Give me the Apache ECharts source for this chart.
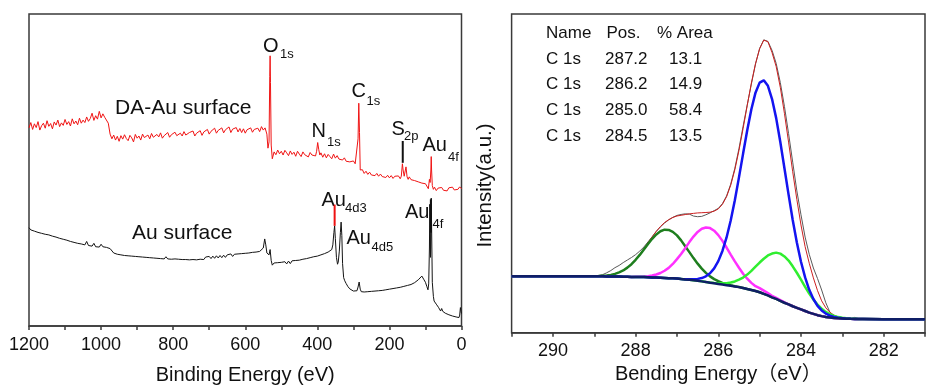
<!DOCTYPE html>
<html><head><meta charset="utf-8">
<script src="https://cdn.jsdelivr.net/npm/echarts@6/dist/echarts.min.js"></script>
<style>html,body{margin:0;padding:0;background:#fff}#c{width:928px;height:390px}</style>
</head><body><div id="c"></div>
<script>
// ---------- Left panel: XPS survey spectra (binding energy eV, intensity a.u.) ----------
const surveyTickLabels = [0, 200, 400, 600, 800, 1000, 1200];
const daAuSurvey = [[1200,63.5],[1195,65.2],[1190,63.0],[1185,64.8],[1180,63.6],[1175,65.5],[1170,62.8],[1165,64.2],[1160,65.0],[1155,63.4],[1150,65.8],[1145,64.0],[1140,64.9],[1135,63.2],[1130,65.4],[1125,64.4],[1120,66.0],[1115,63.9],[1110,65.1],[1105,64.3],[1100,66.2],[1095,64.6],[1090,65.5],[1085,64.1],[1080,66.4],[1075,64.8],[1070,65.7],[1065,64.5],[1060,66.6],[1055,65.0],[1050,66.0],[1045,65.2],[1040,67.0],[1035,65.6],[1030,66.5],[1025,68.2],[1020,65.9],[1015,67.4],[1010,66.3],[1005,68.8],[1000,66.7],[995,68.0],[990,66.9],[985,67.5],[980,65.0],[975,61.5],[970,60.0],[965,61.2],[960,59.6],[955,60.8],[950,59.2],[945,61.0],[940,59.9],[935,61.3],[930,60.1],[925,59.4],[920,61.1],[915,60.3],[910,59.0],[905,61.4],[900,60.2],[895,60.9],[890,59.6],[885,61.5],[880,60.4],[875,59.8],[870,61.2],[865,60.0],[860,61.7],[855,60.5],[850,59.9],[845,61.4],[840,60.6],[835,61.9],[830,60.2],[825,61.0],[820,60.7],[815,62.0],[810,60.5],[805,61.3],[800,60.8],[795,62.1],[790,61.0],[785,60.4],[780,61.8],[775,60.9],[770,62.3],[765,61.2],[760,60.7],[755,62.0],[750,61.4],[745,62.5],[740,60.9],[735,61.8],[730,61.3],[725,62.6],[720,61.1],[715,62.2],[710,61.6],[705,63.0],[700,61.5],[695,62.4],[690,61.9],[685,63.4],[680,61.8],[675,62.7],[670,62.1],[665,63.5],[660,61.9],[655,62.9],[650,62.3],[645,63.8],[640,62.0],[635,63.1],[630,62.5],[625,63.6],[620,62.2],[615,63.3],[610,62.0],[605,63.2],[600,61.8],[595,62.9],[590,62.4],[585,63.5],[580,62.1],[575,63.0],[570,62.6],[565,63.4],[560,62.3],[555,63.9],[550,62.8],[545,63.5],[540,61.5],[537,57.0],[534,59.0],[532,80.0],[531,86.6],[530,78.0],[528,58.0],[525,53.6],[520,55.8],[515,54.9],[510,56.4],[505,55.2],[500,56.0],[495,54.8],[490,56.3],[485,55.5],[480,54.6],[475,56.1],[470,55.0],[465,55.7],[460,54.4],[455,56.0],[450,55.1],[445,54.3],[440,55.8],[435,54.9],[430,55.5],[425,54.2],[420,55.6],[415,54.8],[410,55.3],[405,54.5],[402,56.0],[399,58.8],[396,56.5],[393,54.8],[390,55.5],[385,54.1],[380,55.2],[375,53.9],[370,55.0],[365,54.3],[360,53.6],[355,55.1],[350,53.8],[345,54.6],[340,53.5],[335,54.0],[330,53.2],[325,53.9],[320,52.8],[315,53.4],[310,52.6],[305,52.5],[300,52.9],[295,52.0],[290,51.6],[287,60.0],[285,71.4],[283,62.0],[281,50.0],[278,49.4],[275,50.1],[270,48.9],[265,49.6],[260,48.6],[255,49.3],[250,48.4],[245,49.0],[240,48.2],[235,48.9],[230,48.0],[225,48.7],[220,47.9],[215,48.5],[210,47.6],[205,48.3],[200,47.5],[195,48.2],[190,47.3],[185,48.0],[180,47.4],[175,48.1],[170,47.2],[167,48.0],[164,52.0],[162,50.0],[159,48.0],[156,47.5],[154,51.0],[151,47.8],[148,47.0],[145,47.8],[140,46.9],[135,47.5],[130,46.6],[125,47.2],[120,46.2],[115,46.8],[110,45.8],[105,46.4],[100,45.6],[95,45.3],[92,44.0],[89,47.0],[87,46.0],[85,50.0],[84,54.3],[83,50.0],[81,45.0],[78,43.8],[75,44.5],[70,43.4],[65,44.2],[60,43.6],[55,44.4],[50,43.5],[45,44.0],[40,43.3],[35,44.3],[30,43.7],[25,44.5],[20,43.6],[15,44.2],[10,43.8],[5,44.6],[0,44.0]];
const auSurvey = [[1200,31.5],[1195,30.8],[1190,31.2],[1185,30.4],[1180,30.9],[1175,30.0],[1170,30.5],[1165,29.7],[1160,30.2],[1155,29.4],[1150,29.9],[1145,29.2],[1140,29.6],[1135,28.8],[1130,29.3],[1125,28.5],[1120,28.9],[1115,28.1],[1110,28.6],[1105,27.8],[1100,28.2],[1095,27.5],[1090,27.9],[1085,27.1],[1080,27.6],[1075,26.8],[1070,27.2],[1065,26.5],[1060,27.0],[1055,26.3],[1050,26.7],[1045,26.0],[1040,27.1],[1035,25.8],[1030,26.3],[1025,25.6],[1020,26.5],[1015,25.4],[1010,25.9],[1005,25.3],[1000,26.2],[995,25.4],[990,25.8],[985,25.2],[980,25.6],[975,24.8],[970,24.2],[965,23.4],[960,23.8],[955,23.0],[950,23.5],[945,22.8],[940,23.3],[935,22.6],[930,23.2],[925,22.5],[920,23.1],[915,22.4],[910,23.0],[905,22.3],[900,22.9],[895,22.2],[890,22.8],[885,22.1],[880,22.7],[875,22.0],[870,22.6],[865,21.9],[860,22.5],[855,21.8],[850,22.4],[845,21.7],[840,22.3],[835,21.6],[830,22.2],[825,21.5],[820,22.2],[815,21.5],[810,22.1],[805,21.4],[800,22.0],[795,21.5],[790,22.1],[785,21.4],[780,22.0],[775,21.3],[770,21.9],[765,21.3],[760,21.9],[755,21.2],[750,21.8],[745,21.3],[740,21.9],[735,21.2],[730,21.7],[725,21.4],[720,22.0],[715,21.3],[710,22.1],[705,21.5],[700,22.3],[695,21.6],[690,22.4],[685,21.7],[680,22.5],[675,21.8],[670,22.6],[665,21.9],[660,22.7],[655,22.0],[650,22.8],[645,22.2],[640,23.1],[635,22.3],[630,23.0],[625,22.4],[620,23.1],[615,22.5],[610,23.2],[605,22.6],[600,23.3],[595,22.8],[590,23.4],[585,22.9],[580,23.6],[575,23.0],[570,23.7],[565,23.2],[560,23.9],[555,23.6],[550,25.0],[546,27.9],[543,26.0],[540,23.4],[537,23.0],[534,22.8],[531,24.5],[528,21.0],[525,19.5],[520,20.2],[515,19.6],[510,20.3],[505,19.7],[500,20.4],[495,19.8],[490,20.6],[485,19.9],[480,20.8],[475,20.0],[470,20.9],[465,20.3],[460,21.0],[455,20.4],[450,21.1],[445,20.6],[440,21.4],[435,20.9],[430,21.6],[425,21.1],[420,21.9],[415,21.3],[410,22.2],[405,21.6],[400,22.4],[395,21.9],[390,22.8],[385,22.3],[380,23.2],[375,22.8],[370,23.7],[365,23.5],[360,24.5],[357,26.0],[354,30.0],[352,32.1],[350,28.0],[347,22.0],[344,19.8],[342,20.5],[339,24.0],[336,30.0],[334,33.3],[332,29.0],[330,20.0],[327,15.5],[324,14.5],[320,13.6],[315,12.6],[310,11.9],[305,11.5],[300,11.2],[295,11.0],[290,11.3],[287,12.5],[284,14.1],[281,11.8],[278,11.0],[275,11.4],[270,10.9],[265,11.2],[260,11.0],[255,11.5],[250,11.1],[245,11.6],[240,11.2],[235,11.7],[230,11.3],[225,11.8],[220,11.4],[215,11.9],[210,11.6],[205,12.1],[200,11.8],[195,12.3],[190,12.0],[185,12.5],[180,12.2],[175,12.7],[170,12.4],[165,12.9],[160,12.7],[155,13.2],[150,13.0],[145,13.5],[140,13.3],[135,13.8],[130,13.9],[125,14.5],[120,14.8],[115,15.4],[110,16.0],[107,15.6],[104,14.8],[100,14.0],[96,12.6],[93,11.6],[91,13.5],[89,25.0],[88,39.0],[87,33.0],[86,22.0],[85,30.0],[84,41.0],[83,32.0],[81,14.0],[78,9.5],[76,8.0],[73,7.6],[70,7.0],[67,6.4],[64,6.0],[61,5.5],[58,4.8],[55,5.6],[52,4.7],[49,4.4],[45,4.1],[40,3.9],[35,3.6],[30,3.4],[25,3.2],[20,3.0],[15,2.9],[10,2.7],[7,2.7],[5,3.5],[3,5.9],[1,4.5],[0,4.0]];
// label indicator ticks: [energy, low, high]
const markerEnergy = [352, 163, 85];
const markerLow = [32.1, 52.3, 29.9];
const markerHigh = [38.9, 59.3, 40.6];
const markerColor = ['#ee1111', '#111111', '#111111'];

// ---------- Right panel: C 1s high-resolution fit ----------
const c1sTickLabels = [282, 284, 286, 288, 290];
const c1sEnergy = [291,290.5,290,289.5,289.0,288.9,288.8,288.7,288.6,288.5,288.4,288.3,288.2,288.1,288.0,287.9,287.8,287.7,287.6,287.5,287.4,287.3,287.2,287.1,287.0,286.9,286.8,286.7,286.6,286.5,286.4,286.3,286.2,286.1,286.0,285.9,285.8,285.7,285.6,285.5,285.4,285.3,285.2,285.1,285.0,284.9,284.8,284.7,284.6,284.5,284.4,284.3,284.2,284.1,284.0,283.9,283.8,283.7,283.6,283.5,283.4,283.3,283.2,283.1,283.0,282.9,282.8,282.7,282.6,282.5,282,281.5,281];
const c1sRaw = [17.7,17.6,17.8,17.7,17.8,17.9,18.2,18.8,19.5,20.4,21.1,22.0,22.8,23.6,24.5,25.6,26.9,28.5,30.1,31.8,33.2,34.4,35.4,36.2,36.8,37.1,37.3,37.2,36.6,36.4,36.5,37.0,37.6,38.3,39.0,40.5,42.9,46.6,51.6,57.8,64.8,71.5,78.0,84.3,89.2,91.9,91.4,88.6,84.5,78.5,71.0,62.5,53.5,44.5,37.0,30.0,24.6,20.3,17.0,13.4,9.4,6.4,5.0,4.5,4.4,4.5,4.4,4.8,4.4,4.3,4.3,4.2,4.25];
const c1sEnvelope = [17.7,17.7,17.7,17.7,17.75,17.8,17.88,17.96,18.12,18.45,18.92,19.53,20.42,21.5,22.93,24.52,26.34,28.2,30.06,31.8,33.32,34.57,35.47,36.15,36.62,36.84,37.07,37.29,37.44,37.58,37.65,37.72,37.81,38.13,38.85,40.28,42.67,46.26,51.12,57.19,64.06,71.31,78.35,84.42,89.09,91.8,91.3,87.9,83.5,77.0,68.8,59.8,50.5,41.8,33.8,27.0,21.8,17.2,13.2,10.0,7.8,6.4,5.5,5.0,4.7,4.53,4.42,4.37,4.3,4.3,4.25,4.25,4.25];
const c1sBackground = [17.7,17.7,17.7,17.7,17.7,17.7,17.7,17.65,17.6,17.6,17.6,17.55,17.55,17.5,17.5,17.45,17.45,17.4,17.35,17.3,17.25,17.2,17.1,17.05,17.0,16.85,16.7,16.6,16.45,16.3,16.1,15.9,15.7,15.5,15.3,15.1,14.9,14.7,14.5,14.3,14.0,13.7,13.4,13.1,12.7,12.2,11.7,11.1,10.6,10.0,9.4,8.9,8.3,7.8,7.3,6.8,6.3,5.9,5.5,5.2,4.95,4.75,4.6,4.5,4.45,4.4,4.35,4.33,4.3,4.3,4.25,4.25,4.25];
const peak2872 = [17.7,17.7,17.7,17.7,17.75,17.8,17.88,17.96,18.12,18.45,18.92,19.53,20.42,21.5,22.87,24.41,26.14,27.85,29.47,30.84,31.83,32.33,32.23,31.63,30.54,28.97,27.15,25.29,23.41,21.67,20.1,18.77,17.68,16.82,16.15,15.62,15.21,14.88,14.6,14.35,14.03,13.7,13.4,13.1,12.7,12.2,11.7,11.1,10.6,10.0,9.4,8.9,8.3,7.8,7.3,6.8,6.3,5.9,5.5,5.2,4.95,4.75,4.6,4.5,4.45,4.4,4.35,4.33,4.3,4.3,4.25,4.25,4.25];
const peak2862 = [17.7,17.7,17.7,17.7,17.7,17.7,17.7,17.65,17.6,17.6,17.6,17.55,17.55,17.5,17.56,17.56,17.65,17.75,17.94,18.26,18.74,19.44,20.34,21.57,23.08,24.72,26.53,28.43,30.16,31.62,32.6,33.02,32.82,32.0,30.62,28.81,26.73,24.53,22.37,20.38,18.52,16.94,15.64,14.59,14.0,13.2,12.4,11.6,10.9,10.2,9.5,8.9,8.3,7.8,7.3,6.8,6.3,5.9,5.5,5.2,4.95,4.75,4.6,4.5,4.45,4.4,4.35,4.33,4.3,4.3,4.25,4.25,4.25];
const peak2850 = [17.7,17.7,17.7,17.7,17.7,17.7,17.7,17.65,17.6,17.6,17.6,17.55,17.55,17.5,17.5,17.45,17.45,17.4,17.35,17.3,17.25,17.2,17.1,17.05,17.0,16.85,16.79,16.77,16.77,16.89,17.15,17.69,18.64,20.18,22.45,25.65,29.88,35.22,41.57,48.73,56.2,63.54,70.13,75.32,78.47,79.2,77.47,73.32,67.33,59.84,51.6,43.33,35.37,28.32,22.28,17.35,13.45,10.58,8.44,6.99,6.0,5.34,4.92,4.67,4.54,4.4,4.35,4.33,4.3,4.3,4.25,4.25,4.25];
const peak2845 = [17.7,17.7,17.7,17.7,17.7,17.7,17.7,17.65,17.6,17.6,17.6,17.55,17.55,17.5,17.5,17.45,17.45,17.4,17.35,17.3,17.25,17.2,17.1,17.05,17.0,16.85,16.7,16.6,16.45,16.3,16.12,15.94,15.77,15.63,15.53,15.5,15.55,15.73,16.08,16.63,17.31,18.23,19.38,20.71,22.02,23.21,24.23,24.84,25.13,24.8,23.93,22.64,20.83,18.81,16.62,14.41,12.28,10.43,8.81,7.53,6.53,5.78,5.25,4.9,4.68,4.53,4.42,4.37,4.3,4.3,4.25,4.25,4.25];
const fitHeader = ['Name', 'Pos.', '% Area'];
const fitNames = ['C 1s', 'C 1s', 'C 1s', 'C 1s'];
const fitPositions = ['287.2', '286.2', '285.0', '284.5'];
const fitAreas = ['13.1', '14.9', '58.4', '13.5'];

const FONT = '"Liberation Sans", Arial, "Noto Sans CJK SC", sans-serif';
const AX = '#3a3a3a';
const pairs = (xs, ys) => xs.map((x, i) => [x, ys[i]]);

function txt(text, x, y, size, opts) {
  opts = opts || {};
  return {
    type: 'text', x: x, y: y, rotation: opts.rotation || 0, silent: true,
    style: {
      text: text, fill: '#111', fontSize: size, fontFamily: FONT,
      align: opts.align || 'left', verticalAlign: 'middle',
      textAlign: opts.align || 'left', textVerticalAlign: 'middle'
    }
  };
}

const graphics = [
  txt('O', 263, 46, 20), txt('1s', 280, 54, 13),
  txt('N', 311.5, 131, 20), txt('1s', 327, 142, 13),
  txt('C', 351.5, 91, 20), txt('1s', 366.5, 101, 13),
  txt('S', 391.5, 129.5, 20), txt('2p', 404, 136, 13),
  txt('Au', 422.5, 145, 20), txt('4f', 448, 157, 13),
  txt('Au', 321.5, 200, 20), txt('4d3', 345, 208.5, 13),
  txt('Au', 346.5, 238.5, 20), txt('4d5', 371.5, 247.5, 13),
  txt('Au', 405, 212.5, 20), txt('4f', 432.5, 224, 13),
  txt('DA-Au surface', 115, 108, 21),
  txt('Au surface', 132, 233, 21),
  txt('Intensity(a.u.)', 485, 185.5, 20.5, { rotation: Math.PI / 2, align: 'center' }),
  txt(fitHeader[0], 546, 33.5, 17), txt(fitHeader[1], 606.5, 33.5, 17), txt(fitHeader[2], 657, 33.5, 17)
];
const rowY = [59.5, 84.5, 110.3, 136];
for (let i = 0; i < fitNames.length; i++) {
  graphics.push(txt(fitNames[i], 546, rowY[i], 17));
  graphics.push(txt(fitPositions[i], 605, rowY[i], 17));
  graphics.push(txt(fitAreas[i], 669, rowY[i], 17));
}

function line(name, data, color, width, xi, z) {
  return {
    type: 'line', name: name, data: data, xAxisIndex: xi, yAxisIndex: xi,
    symbol: 'none', showSymbol: false, silent: true, z: z || 2,
    lineStyle: { color: color, width: width }, itemStyle: { color: color }
  };
}

const series = [
  line('DA-Au surface', daAuSurvey, '#f01414', 1, 0, 2),
  line('Au surface', auSurvey, '#141414', 1, 0, 2)
];
for (let i = 0; i < markerEnergy.length; i++) {
  series.push(line('marker' + i, [[markerEnergy[i], markerLow[i]], [markerEnergy[i], markerHigh[i]]], markerColor[i], 2, 0, 3));
}
series.push(
  line('raw', pairs(c1sEnergy, c1sRaw), '#5a5a5a', 1, 1, 2),
  line('envelope', pairs(c1sEnergy, c1sEnvelope), '#cc2020', 1, 1, 3),
  line('287.2', pairs(c1sEnergy, peak2872), '#1e7e1e', 2.5, 1, 4),
  line('286.2', pairs(c1sEnergy, peak2862), '#ff30ff', 2.5, 1, 4),
  line('284.5', pairs(c1sEnergy, peak2845), '#30ee30', 2.5, 1, 4),
  line('285.0', pairs(c1sEnergy, peak2850), '#1414f0', 2.5, 1, 5),
  line('background', pairs(c1sEnergy, c1sBackground), '#0f1e66', 2.5, 1, 6)
);

const chart = echarts.init(document.getElementById('c'), null, { renderer: 'canvas' });
chart.setOption({
  animation: false,
  backgroundColor: '#ffffff',
  textStyle: { fontFamily: FONT },
  grid: [
    { left: 29, right: 466.5, top: 14, bottom: 58, show: true, borderColor: AX, borderWidth: 1.5, backgroundColor: 'transparent' },
    { left: 511.6, right: -10.7, top: 14, bottom: 57.3, show: true, borderColor: AX, borderWidth: 1.5, backgroundColor: 'transparent' }
  ],
  xAxis: [
    {
      type: 'value', gridIndex: 0, min: 0, max: 1200, interval: 100, inverse: true,
      name: 'Binding Energy (eV)', nameLocation: 'middle', nameGap: 39,
      nameTextStyle: { fontSize: 20, color: '#111', fontFamily: FONT },
      axisLine: { show: true, lineStyle: { color: AX, width: 1.5 } },
      axisTick: { show: true, inside: false, length: 4, lineStyle: { color: AX, width: 1.5 } },
      axisLabel: { fontSize: 18, color: '#111', margin: 10, fontFamily: FONT,
        formatter: v => (surveyTickLabels.indexOf(v) >= 0 ? String(v) : '') },
      splitLine: { show: false }
    },
    {
      type: 'value', gridIndex: 1, min: 281, max: 291, interval: 1, inverse: true,
      name: 'Bending Energy（eV）', nameLocation: 'middle', nameGap: 29,
      nameTextStyle: { fontSize: 20, color: '#111', fontFamily: FONT },
      axisLine: { show: true, lineStyle: { color: AX, width: 1.5 } },
      axisTick: { show: true, inside: false, length: 4, lineStyle: { color: AX, width: 1.5 } },
      axisLabel: { fontSize: 18, color: '#111', margin: 9, fontFamily: FONT,
        formatter: v => (c1sTickLabels.indexOf(v) >= 0 ? String(v) : '') },
      splitLine: { show: false }
    }
  ],
  yAxis: [
    { type: 'value', gridIndex: 0, min: 0, max: 100, axisLine: { show: false }, axisTick: { show: false }, axisLabel: { show: false }, splitLine: { show: false } },
    { type: 'value', gridIndex: 1, min: 0, max: 100, axisLine: { show: false }, axisTick: { show: false }, axisLabel: { show: false }, splitLine: { show: false } }
  ],
  graphic: graphics,
  series: series
});
</script>
</body></html>
